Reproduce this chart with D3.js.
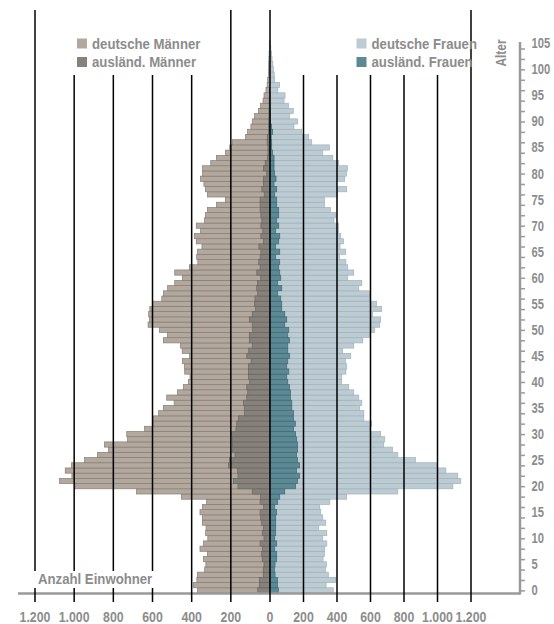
<!DOCTYPE html>
<meta charset="utf-8">
<style>
body { margin: 0; background: #fff; }
svg text {
  font-family: "Liberation Sans", Arial, sans-serif;
  font-weight: bold;
  fill: #8c8c8c;
}
</style>

<div id="my_dataviz"></div>

<script src="https://d3js.org/d3.v7.min.js"></script>
<script>

// Altersjahre 0 bis 105
var ages = d3.range(0, 106)

// Einwohner je Altersjahr (Index = Alter)
var deutscheMaenner = [368,389,371,368,331,325,337,317,355,337,315,326,324,343,343,355,343,321,450,679,
  992,1072,1009,1043,1011,944,878,822,843,725,729,638,593,593,566,542,487,525,470,440,
  414,406,433,435,445,409,446,455,542,521,562,620,613,617,611,598,550,542,520,484,
  445,484,409,366,372,367,345,374,383,352,374,332,327,317,271,225,317,327,335,352,
  342,342,300,271,225,203,190,122,112,95,88,77,56,46,33,28,18,12,9,6,
  5,4,3,2,1,1]
var auslMaenner = [60,52,52,32,32,28,37,40,35,48,28,37,31,40,45,48,30,48,45,88,
  161,184,161,164,210,205,176,191,190,191,198,171,167,159,128,128,133,116,111,116,
  101,108,108,108,94,116,106,88,103,103,86,88,103,88,71,77,74,60,65,62,
  45,65,48,55,48,44,54,31,44,34,44,39,44,48,48,48,27,39,31,31,
  14,31,22,10,8,8,12,10,6,5,4,3,3,2,2,1,1,0,0,0,
  0,0,0,0,0,0]
var deutscheFrauen = [381,338,395,351,334,340,320,328,330,342,318,342,294,336,318,306,300,360,461,766,
  1095,1142,1124,1053,999,871,766,734,682,688,664,600,609,563,563,539,551,533,503,473,
  431,431,456,461,453,485,437,503,557,601,628,658,664,616,670,640,599,597,533,551,
  467,503,467,456,419,455,421,441,425,413,413,385,397,364,328,328,405,461,401,449,
  459,465,413,378,318,358,252,234,192,146,168,119,142,113,87,93,50,60,30,28,
  24,20,15,12,8,5]
var auslFrauen = [53,47,47,33,29,33,43,43,31,43,31,37,37,37,37,43,31,49,61,91,
  156,168,180,162,180,168,162,168,168,162,156,144,154,144,144,133,133,126,126,120,
  109,103,115,103,109,120,109,109,120,109,115,91,103,91,73,73,67,49,73,49,
  67,61,55,61,37,61,37,55,61,37,55,43,55,55,43,43,31,43,27,39,
  31,27,27,27,19,13,13,10,19,11,6,5,4,3,2,2,1,0,0,0,
  0,0,0,0,0,0]

var gridTicks = [0, 200, 400, 600, 800, 1000, 1200]
var ageLabels = d3.range(0, 106, 5)

var legendLeft = ["deutsche Männer", "ausländ. Männer"]
var legendRight = ["deutsche Frauen", "ausländ. Frauen"]

var width = 554,
    height = 624

// schmale Schrift nachbilden
var narrow = 0.88

var svg = d3.select("#my_dataviz")
  .append("svg")
    .attr("width", width)
    .attr("height", height)

// Skalen: die linke Hälfte ist im Original etwas breiter als die rechte
var y = d3.scaleBand()
  .domain(ages)
  .range([593, 40.7])
var xL = d3.scaleLinear()
  .domain([0, 1200])
  .range([269.5, 34.5])
var xR = d3.scaleLinear()
  .domain([0, 1200])
  .range([269.5, 470.5])

function rows(values) {
  return ages.map(function(a, i) { return {age: a, v: values[i]} })
}

// Balken Männer
function barsLeft(values, fill, stroke) {
  svg.append("g")
    .selectAll("rect")
    .data(rows(values))
    .enter()
    .append("rect")
      .attr("x", function(d) { return xL(d.v) })
      .attr("y", function(d) { return y(d.age) })
      .attr("width", function(d) { return xL(0) - xL(d.v) })
      .attr("height", y.bandwidth())
      .style("fill", fill)
      .style("stroke", stroke)
      .style("stroke-width", 0.7)
}
// Balken Frauen
function barsRight(values, fill, stroke) {
  svg.append("g")
    .selectAll("rect")
    .data(rows(values))
    .enter()
    .append("rect")
      .attr("x", xR(0))
      .attr("y", function(d) { return y(d.age) })
      .attr("width", function(d) { return xR(d.v) - xR(0) })
      .attr("height", y.bandwidth())
      .style("fill", fill)
      .style("stroke", stroke)
      .style("stroke-width", 0.7)
}

barsLeft(deutscheMaenner, "#b2a89e", "#877d75")
barsLeft(auslMaenner, "#86817b", "#6b6661")
barsRight(deutscheFrauen, "#bdcbd3", "#9fb2bd")
barsRight(auslFrauen, "#5d8995", "#3e6a77")

// graue Grundlinie und Altersachse
svg.append("line")
  .attr("x1", 18).attr("x2", 520)
  .attr("y1", 593.5).attr("y2", 593.5)
  .style("stroke", "#9a9a9a")
  .style("stroke-width", 2.5)

var yAge = d3.scaleLinear()
  .domain([0, 105])
  .range([y(0) + y.bandwidth() / 2, y(105) + y.bandwidth() / 2])

svg.append("line")
  .attr("x1", 520).attr("x2", 520)
  .attr("y1", 594.5).attr("y2", 42)
  .style("stroke", "#9a9a9a")
  .style("stroke-width", 2.5)

var minor = svg.append("g")
  .attr("transform", "translate(520,0)")
  .call(d3.axisRight(yAge).tickValues(d3.range(0, 106, 2)).tickSize(5).tickFormat(""))
minor.select(".domain").remove()
minor.selectAll("line").style("stroke", "#9a9a9a").style("stroke-width", 1.5)

var major = svg.append("g")
  .attr("transform", "translate(520,0)")
  .call(d3.axisRight(yAge).tickValues(ageLabels).tickSize(0))
major.select(".domain").remove()
major.selectAll("text")
  .attr("x", 0)
  .attr("transform", "translate(11.5,0) scale(0.8,1)")
  .attr("fill", null)
  .style("font-size", "14px")

svg.append("text")
  .attr("transform", "translate(506,53) rotate(-90) scale(0.85,1)")
  .style("text-anchor", "middle")
  .style("font-size", "14px")
  .text("Alter")

// Gitterlinien mit Beschriftung (deutsches Zahlenformat)
var de = d3.formatLocale({decimal: ",", thousands: ".", grouping: [3], currency: ["", " €"]})
var fmt = de.format(",")

var gL = svg.append("g")
  .attr("transform", "translate(0,602)")
  .call(d3.axisBottom(xL).tickValues(gridTicks).tickSize(-592).tickPadding(10).tickFormat(fmt))
var gR = svg.append("g")
  .attr("transform", "translate(0,602)")
  .call(d3.axisBottom(xR).tickValues(gridTicks.slice(1)).tickSize(-592).tickPadding(10).tickFormat(fmt))

;[gL, gR].forEach(function(g) {
  g.select(".domain").remove()
  g.selectAll("line").style("stroke", "#000").style("stroke-width", 1.5)
  g.selectAll("text")
    .attr("transform", "scale(" + narrow + ",1)")
    .attr("fill", null)
    .style("font-size", "14px")
})

// Legende (weiße Flächen verdecken die Gitterlinien)
svg.append("rect")
  .attr("x", 55).attr("y", 8).attr("width", 167).attr("height", 67)
  .style("fill", "#fff")
svg.append("rect")
  .attr("x", 284).attr("y", 8).attr("width", 175).attr("height", 67)
  .style("fill", "#fff")

var legendColors = [["#b2a89e", "#86817b"], ["#bdcbd3", "#5d8995"]]

function legend(labels, colors, x0) {
  svg.append("g")
    .selectAll("rect")
    .data(labels)
    .enter()
    .append("rect")
      .attr("x", x0)
      .attr("y", function(d, i) { return 38.5 + i * 18.5 })
      .attr("width", 10)
      .attr("height", 10)
      .style("fill", function(d, i) { return colors[i] })
  svg.append("g")
    .selectAll("text")
    .data(labels)
    .enter()
    .append("text")
      .attr("transform", function(d, i) {
        return "translate(" + (x0 + 15) + "," + (48.5 + i * 18.5) + ") scale(" + narrow + ",1)"
      })
      .style("font-size", "15px")
      .text(function(d) { return d })
}
legend(legendLeft, legendColors[0], 77)
legend(legendRight, legendColors[1], 356.5)

// Beschriftung unten links, ebenfalls freigestellt
svg.append("rect")
  .attr("x", 28).attr("y", 571).attr("width", 132).attr("height", 17)
  .style("fill", "#fff")
svg.append("text")
  .attr("transform", "translate(38,584) scale(" + narrow + ",1)")
  .style("font-size", "15px")
  .text("Anzahl Einwohner")

</script>
